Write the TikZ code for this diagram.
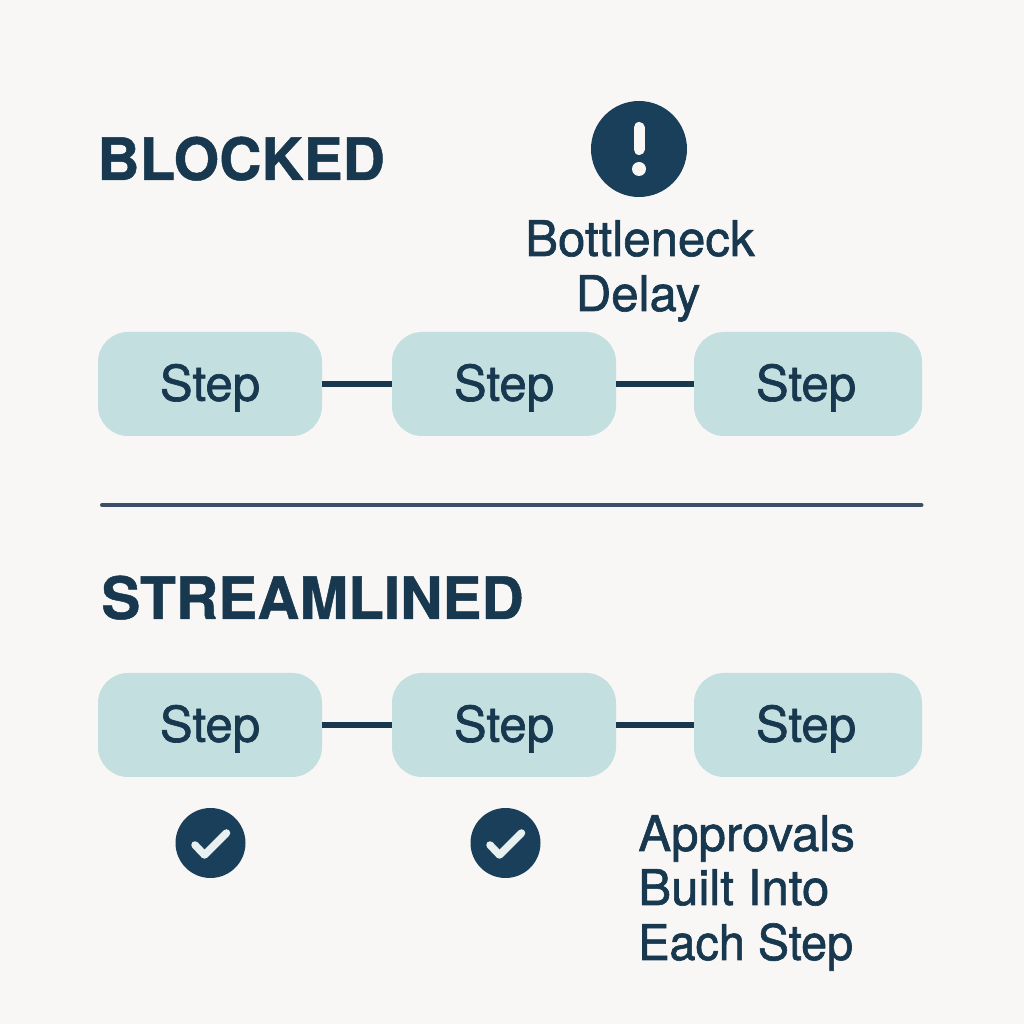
\documentclass[tikz,border=0pt]{standalone}
\usepackage{fontspec}
\setmainfont{TeX Gyre Heros}
\newfontfamily\medfont[FakeBold=1.3]{TeX Gyre Heros}
\newfontfamily\headfont[FakeBold=0.8]{TeX Gyre Heros Bold}
\usetikzlibrary{calc}
\definecolor{bgcolor}{HTML}{F8F7F5}
\definecolor{boxcolor}{HTML}{C3DFE0}
\definecolor{inkcolor}{HTML}{17384F}
\definecolor{iconcolor}{HTML}{1A3F5A}
\definecolor{rulecolor}{HTML}{3B5068}
\definecolor{tickcolor}{HTML}{E8F0F0}
\tikzset{
	stepbox/.style={fill=boxcolor, rounded corners=0.6cm, minimum width=4.48cm, minimum height=2.08cm, text height=0.77cm, text depth=0.1cm, text=inkcolor, font=\medfont\fontsize{28}{28}\selectfont},
	widebox/.style={stepbox, minimum width=4.56cm},
	link/.style={inkcolor, line width=0.13cm},
	heading/.style={anchor=base west, inner sep=0, text=inkcolor, font=\headfont\fontsize{33.3}{33.3}\selectfont},
	note/.style={anchor=base west, inner sep=0, text=inkcolor, font=\medfont\fontsize{28}{28}\selectfont},
	badge/.style={circle, fill=iconcolor, inner sep=0, minimum size=1.4cm},
}

\begin{document}
\begin{tikzpicture}
	\fill [bgcolor] (0, 0) rectangle (20.48, 20.48);
	\useasboundingbox (0, 0) rectangle (20.48, 20.48);

	\node [heading] (blocked) at (1.94, 16.88) {BLOCKED};
	\node [heading] (streamlined) at (2.02, 8.1) {STREAMLINED};

	% steps of both rows
	\foreach \row/\y in {a/12.8, b/5.98}
	{
		\node [stepbox] (\row1) at (4.2, \y) {Step};
		\node [stepbox] (\row2) at (10.08, \y) {Step};
		\node [widebox] (\row3) at (16.16, \y) {Step\kern0.08cm};
		\draw [link] (\row1) -- (\row2);
		\draw [link] (\row2) -- (\row3);
	}

	\coordinate (ruleleft) at (2.04, 10.38);
	\coordinate (ruleright) at (18.43, 10.38);
	\draw [rulecolor, line width=0.08cm, line cap=round] (ruleleft) -- (ruleright);

	% warning sign
	\node [badge, minimum size=1.92cm] (alert) at (12.78, 17.5) {};
	\draw [bgcolor, line width=0.22cm, line cap=round] ($(alert) + (0, 0.43)$) -- ++(0, -0.44);
	\fill [bgcolor] ($(alert) + (0, -0.4)$) circle (0.14);
	\node [note, anchor=base] (bottleneck) at (12.8, 15.36) {Bottleneck};
	\node [note, anchor=base] (delay) at (12.76, 14.26) {Delay};

	% ticks
	\foreach \name/\x in {tickone/4.21, ticktwo/10.11}
	{
		\node [badge] (\name) at (\x, 3.62) {};
		\draw [tickcolor, line width=0.15cm, line cap=round, line join=round] ($(\name) + (-0.31, -0.04)$) -- ++(0.19, -0.2) -- ++(0.44, 0.44);
	}

	\node [note] (approvals) at (12.76, 3.46) {Approvals};
	\node [note] (built) at (12.76, 2.38) {Built Into};
	\node [note, xscale=0.95, transform shape] (each) at (12.76, 1.28) {Each Step};
\end{tikzpicture}
\end{document}
